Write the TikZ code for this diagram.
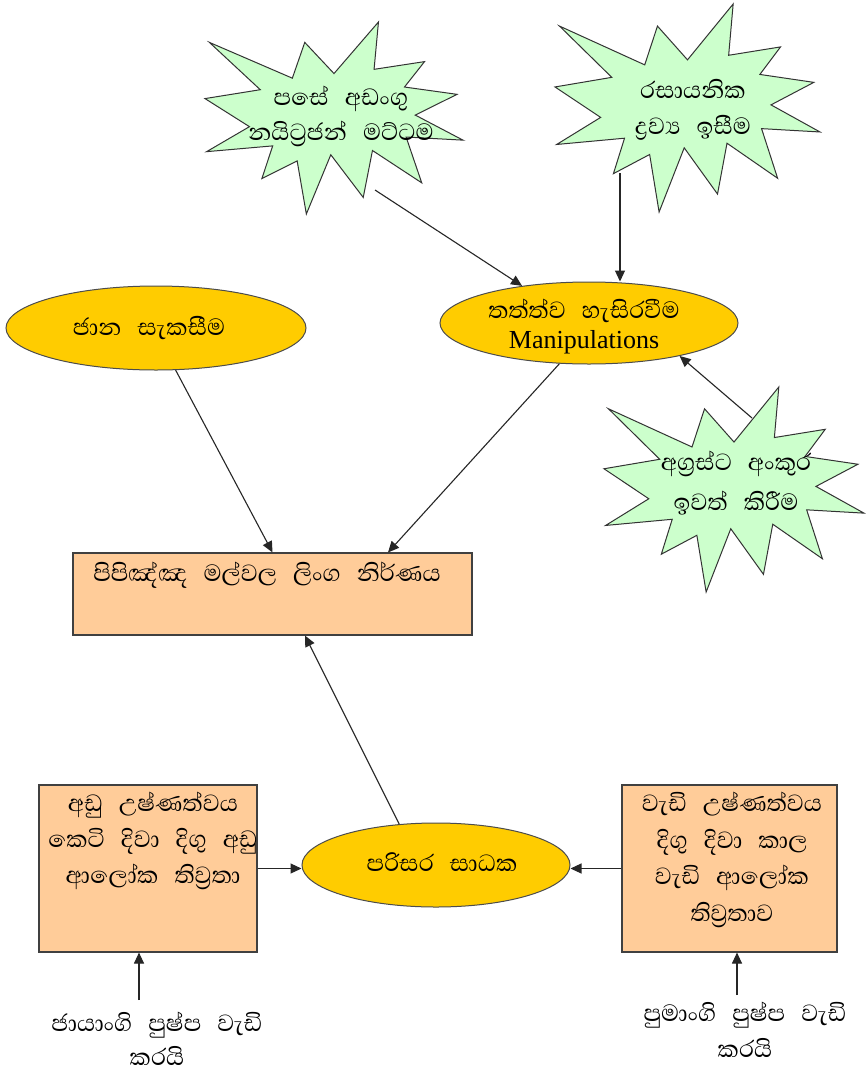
\documentclass[tikz,border=0pt]{standalone}
\usepackage{fontspec}
\setmainfont{Abhaya Libre}[Script=Sinhala]
\newfontfamily\latinf{Liberation Serif}
\usetikzlibrary{shapes.geometric,arrows.meta,calc}
\definecolor{peach}{HTML}{FFCC99}
\definecolor{gold}{HTML}{FFCC00}
\definecolor{mint}{HTML}{CCFFCC}
\newcommand\gp{\hspace{16pt}}
\newcommand\explo[4]{%
  \begin{scope}[shift={(#1,#2)},xscale=#3/216,yscale=#4/216]
    \draw[starst] (108,58) -- (145.22,0) -- (141.55,53.25) -- (183.80,44.57) -- (167.02,73.15)
      -- (210.97,81.37) -- (176.07,104.75) -- (216,132.90) -- (168.37,129.42) -- (181.45,180.95)
      -- (140.20,144.57) -- (132.47,197.37) -- (105.32,149.35) -- (84.85,216) -- (77.15,156.27)
      -- (47.62,176.17) -- (56.67,139.37) -- (1.35,145.87) -- (37.22,117.75) -- (0,86.15)
      -- (46.27,76.17) -- (3.70,22.95) -- (73.12,63.20) -- (83.52,22.95) -- cycle;
  \end{scope}}
\tikzset{
  starst/.style={draw=black!80,line width=1pt,fill=mint,line join=miter},
  boxst/.style={draw=black!75,line width=1.1pt,fill=peach,inner sep=0pt},
  ellst/.style={ellipse,draw=black!70,line width=1pt,fill=gold,inner sep=0pt},
  txt/.style={align=center,inner sep=0pt,font=\fontsize{30}{#1}\selectfont},
  txt/.default=36,
  arr/.style={-{Triangle[length=11pt,width=10pt]},line width=1.1pt,draw=black!85},
}
\begin{document}
\begin{tikzpicture}[x=1pt,y=-1pt]
\useasboundingbox (0,0) rectangle (866,1074);
\fill[white] (0,0) rectangle (866,1074);
% starbursts
\explo{205}{22}{258}{192}
\explo{555}{4}{265}{208}
\explo{604}{387}{260}{205}
% boxes and ellipses
\node[boxst,minimum width=399,minimum height=82] (main) at (272.5,594) {};
\node[boxst,minimum width=218,minimum height=167] (lbox) at (148,868.5) {};
\node[boxst,minimum width=215,minimum height=167] (rbox) at (729.5,868.5) {};
\node[ellst,minimum width=300,minimum height=84] (jana) at (156,328) {};
\node[ellst,minimum width=298,minimum height=82] (manip) at (589,323) {};
\node[ellst,minimum width=268,minimum height=84] (pari) at (436,865) {};
% texts
\node[txt=35] (s1txt) at (341,116) {පසේ\gp අඩංගු\\ නයිට්‍රජන්\gp මට්ටම};
\node[txt=36] (s2txt) at (693,110) {රසායනික\\ ද්‍රව්‍ය\gp ඉසීම};
\node[txt=40] (s3txt) at (736,483) {අග්‍රස්ට\gp අංකුර\\ ඉවත්\gp කිරීම};
\node[txt=30] (mtxt) at (584,327) {තත්ත්ව\gp හැසිරවීම\\ {\latinf\fontsize{26}{30}\selectfont Manipulations}};
\node[txt] (jtxt) at (149,328) {ජාන\gp සැකසීම};
\node[txt] (maintxt) at (267,575) {පිපිඤ්ඤ\gp මල්වල\gp ලිංග\gp නිර්ණය};
\node[txt=36] (ltxt) at (153,841) {අඩු\gp උෂ්ණත්වය\\ කෙටි\gp දිවා\gp දිගු\gp අඩු\\ ආලෝක\gp තිව්‍රතා};
\node[txt=36.5] (rtxt) at (732,860) {වැඩි\gp උෂ්ණත්වය\\ දිගු\gp දිවා\gp කාල\\ වැඩි\gp ආලෝක\\ තිව්‍රතාව};
\node[txt] (ptxt) at (442,862) {පරිසර\gp සාධක};
\node[txt=34] (lbot) at (157,1039) {ජායාංගි\gp පුෂ්ප\gp වැඩි\\ කරයි};
\node[txt=36] (rbot) at (745,1030) {පුමාංගි\gp පුෂ්ප\gp වැඩි\\ කරයි};
% connectors
\coordinate (s1t) at (375,190);
\coordinate (s2t) at (620,173);
\coordinate (s3t) at (752,418);
\coordinate (lbt) at (139,1000);
\coordinate (rbt) at (737,995);
\draw[arr] (s1t) -- (manip.151.6);
\draw[arr] (s2t) -- (s2t |- manip.north);
\draw[arr] (s3t) -- (manip.-20.2);
\draw[arr] (jana.-65.7) -- (main.north);
\draw[arr] (manip.234.6) -- ($(main.north)+(115.5,0)$);
\draw[arr] (pari.132) -- ($(main.south)+(32.5,0)$);
\draw[arr] (lbox.east) -- (lbox.east -| pari.west);
\draw[arr] (rbox.west) -- (rbox.west -| pari.east);
\draw[arr] (lbt) -- (lbt |- lbox.south);
\draw[arr] (rbt) -- (rbt |- rbox.south);
\end{tikzpicture}
\end{document}
